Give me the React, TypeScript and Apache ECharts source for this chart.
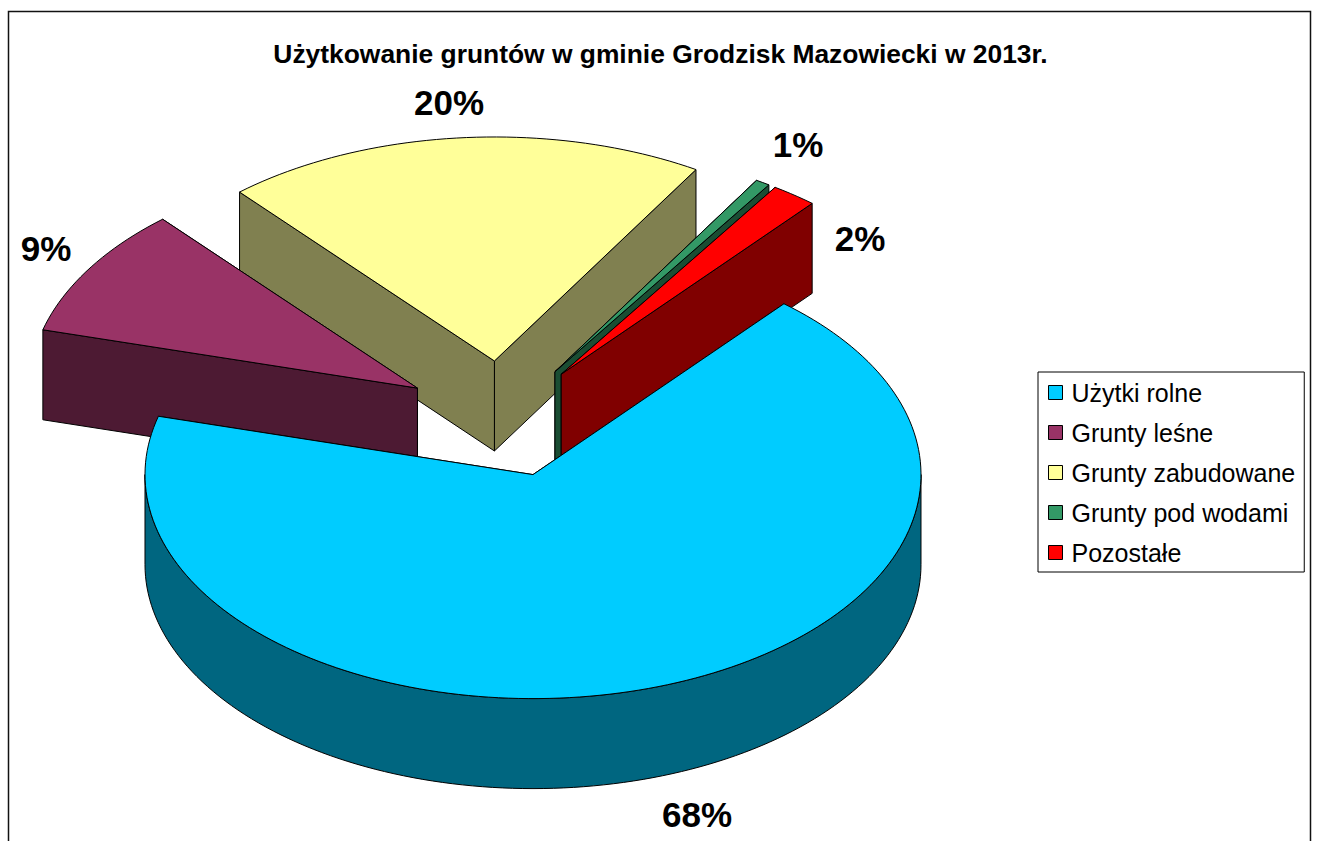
import React, { useEffect, useRef } from "react";
import * as echarts from "echarts";

const TITLE = "Użytkowanie gruntów w gminie Grodzisk Mazowiecki w 2013r.";
const CATEGORIES = ["Użytki rolne", "Grunty leśne", "Grunty zabudowane", "Grunty pod wodami", "Pozostałe"];
const VALUES = [68.0, 9.4, 20.1, 0.6, 1.9];
const TOP_COLORS = ["#00CCFF", "#993366", "#FFFF99", "#339966", "#FF0000"];
const WALL_COLORS = ["#006680", "#4D1A33", "#808050", "#1A4D33", "#800000"];
const STACK_ORDER = [5, 4, 1, 2, 3];
const EXPLODE = [0.26, 0.26, 0.26, 0.25, 0.25];
const LABEL_ANCHORS = [[697, 814], [46, 248], [449, 102], [798, 144], [860, 238]];

const START_ANGLE = 40.3;
const CX = 503;
const CY = 419;
const RX = 388;
const RY = 224;
const DEPTH = 90;

const total = VALUES.reduce((a, b) => a + b, 0);

function polar(cx: number, cy: number, deg: number, dy = 0): number[] {
  const r = (deg * Math.PI) / 180;
  return [cx + RX * Math.sin(r), cy - RY * Math.cos(r) + dy];
}

function arc(cx: number, cy: number, from: number, to: number, dy = 0): number[][] {
  const n = Math.max(2, Math.ceil((to - from) / 1.5));
  const pts: number[][] = [];
  for (let i = 0; i <= n; i++) pts.push(polar(cx, cy, from + ((to - from) * i) / n, dy));
  return pts;
}

function makeRenderItem(index: number) {
  return (_params: any, api: any) => {
    const value = api.value(0);
    const before = VALUES.slice(0, index).reduce((a, b) => a + b, 0);
    const a0 = START_ANGLE + (before / total) * 360;
    const a1 = a0 + (value / total) * 360;
    const mid = ((a0 + a1) / 2) * (Math.PI / 180);
    const tx = CX + EXPLODE[index] * RX * Math.sin(mid);
    const ty = CY - EXPLODE[index] * RY * Math.cos(mid);
    const stroke = { stroke: "#000", lineWidth: 1, lineJoin: "miter" };
    const wall = { fill: WALL_COLORS[index], ...stroke };
    const children: any[] = [];

    const faces = [a0, a1]
      .map((a) => polar(tx, ty, a))
      .sort((p, q) => p[1] - q[1]);
    for (const p of faces) {
      children.push({
        type: "polygon",
        shape: { points: [[tx, ty], p, [p[0], p[1] + DEPTH], [tx, ty + DEPTH]] },
        style: wall,
      });
    }

    for (const shift of [-360, 0, 360]) {
      const w0 = Math.max(a0 + shift, 90);
      const w1 = Math.min(a1 + shift, 270);
      if (w1 > w0) {
        children.push({
          type: "polygon",
          shape: { points: [...arc(tx, ty, w0, w1), ...arc(tx, ty, w0, w1, DEPTH).reverse()] },
          style: wall,
        });
      }
    }

    children.push({
      type: "polygon",
      shape: { points: [[tx, ty], ...arc(tx, ty, a0, a1)] },
      style: { fill: TOP_COLORS[index], ...stroke },
    });

    children.push({
      type: "text",
      style: {
        text: `${Math.round((value / total) * 100)}%`,
        x: LABEL_ANCHORS[index][0],
        y: LABEL_ANCHORS[index][1],
        align: "center",
        verticalAlign: "middle",
        font: "bold 35px 'Liberation Sans'",
        fill: "#000",
      },
    });
    return { type: "group", children };
  };
}

export default function App() {
  const ref = useRef<HTMLDivElement>(null);
  useEffect(() => {
    const chart = echarts.init(ref.current!, null, { renderer: "svg" });
    chart.setOption({
      animation: false,
      backgroundColor: "#fff",
      title: {
        text: TITLE,
        left: 655.5,
        top: 36,
        textAlign: "center",
        textStyle: { fontFamily: "'Liberation Sans'", fontWeight: "bold", fontSize: 26.4, color: "#000" },
      },
      legend: {
        orient: "vertical",
        left: 1038,
        top: 372,
        padding: [8, 9, 7, 10],
        itemWidth: 14,
        itemHeight: 14,
        itemGap: 15,
        icon: "rect",
        borderColor: "#000",
        borderWidth: 1,
        selectedMode: false,
        data: CATEGORIES,
        itemStyle: { borderColor: "#000", borderWidth: 1 },
        textStyle: { fontFamily: "'Liberation Sans'", fontSize: 25, color: "#000", padding: [0, 0, 0, 4] },
      },
      graphic: [
        {
          type: "rect",
          shape: { x: 8.5, y: 11.5, width: 1302, height: 900 },
          style: { fill: "none", stroke: "#111", lineWidth: 1.5 },
          z: 0,
        },
      ],
      series: CATEGORIES.map((name, i) => ({
        type: "custom",
        name,
        coordinateSystem: "none",
        silent: true,
        z: 10 + STACK_ORDER[i],
        itemStyle: { color: TOP_COLORS[i] },
        data: [[VALUES[i]]],
        renderItem: makeRenderItem(i),
      })),
    });
    return () => chart.dispose();
  }, []);
  return <div ref={ref} style={{ position: "absolute", left: 0, top: 0, width: 1317, height: 841 }} />;
}
